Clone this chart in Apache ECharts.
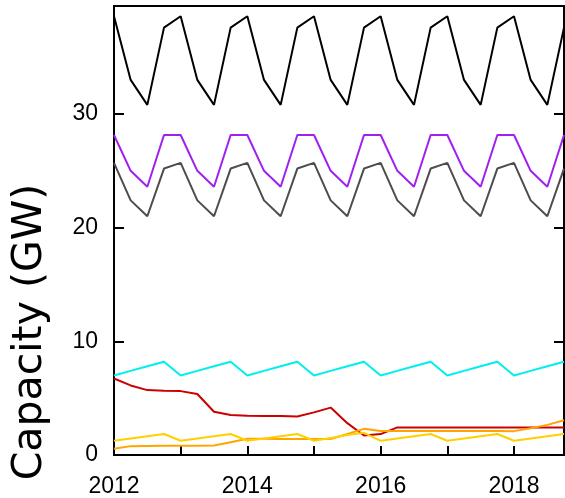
<!DOCTYPE html>
<html>
<head>
<meta charset="utf-8">
<style>
  html, body { margin: 0; padding: 0; background: #ffffff; }
  #chart { width: 565px; height: 498px; }
</style>
<script src="https://cdn.jsdelivr.net/npm/echarts@6/dist/echarts.min.js"></script>
</head>
<body>
<div id="chart"></div>
<script>
// Quarterly time stamps (decimal years)
const quarters = [
  2012.00, 2012.25, 2012.50, 2012.75,
  2013.00, 2013.25, 2013.50, 2013.75,
  2014.00, 2014.25, 2014.50, 2014.75,
  2015.00, 2015.25, 2015.50, 2015.75,
  2016.00, 2016.25, 2016.50, 2016.75,
  2017.00, 2017.25, 2017.50, 2017.75,
  2018.00, 2018.25, 2018.50, 2018.75
];

// Capacity in GW per quarter
const blackSeries = [
  38.6, 33.0, 30.8, 37.6,  38.6, 33.0, 30.8, 37.6,  38.6, 33.0, 30.8, 37.6,
  38.6, 33.0, 30.8, 37.6,  38.6, 33.0, 30.8, 37.6,  38.6, 33.0, 30.8, 37.6,
  38.6, 33.0, 30.8, 37.6
];
const purpleSeries = [
  28.15, 25.0, 23.6, 28.15,  28.15, 25.0, 23.6, 28.15,  28.15, 25.0, 23.6, 28.15,
  28.15, 25.0, 23.6, 28.15,  28.15, 25.0, 23.6, 28.15,  28.15, 25.0, 23.6, 28.15,
  28.15, 25.0, 23.6, 28.15
];
const graySeries = [
  25.7, 22.4, 21.0, 25.2,  25.7, 22.4, 21.0, 25.2,  25.7, 22.4, 21.0, 25.2,
  25.7, 22.4, 21.0, 25.2,  25.7, 22.4, 21.0, 25.2,  25.7, 22.4, 21.0, 25.2,
  25.7, 22.4, 21.0, 25.2
];
const cyanSeries = [
  7.0, 7.4, 7.8, 8.2,  7.0, 7.4, 7.8, 8.2,  7.0, 7.4, 7.8, 8.2,
  7.0, 7.4, 7.8, 8.2,  7.0, 7.4, 7.8, 8.2,  7.0, 7.4, 7.8, 8.2,
  7.0, 7.4, 7.8, 8.2
];
const redSeries = [
  6.73, 6.12, 5.71, 5.66,  5.62, 5.37, 3.81, 3.52,  3.45, 3.43, 3.42, 3.38,
  3.75, 4.17, 2.80, 1.71,  1.84, 2.43, 2.43, 2.43,  2.43, 2.43, 2.43, 2.43,
  2.43, 2.43, 2.43, 2.43
];
const orangeSeries = [
  0.55, 0.78, 0.80, 0.81,  0.82, 0.82, 0.83, 1.13,  1.43, 1.42, 1.41, 1.40,
  1.40, 1.40, 1.85, 2.30,  2.12, 2.12, 2.12, 2.12,  2.12, 2.12, 2.12, 2.12,
  2.10, 2.35, 2.65, 3.05
];
const yellowSeries = [
  1.25, 1.45, 1.65, 1.85,  1.25, 1.45, 1.65, 1.85,  1.25, 1.45, 1.65, 1.85,
  1.25, 1.50, 1.75, 1.95,  1.25, 1.45, 1.65, 1.85,  1.25, 1.45, 1.65, 1.85,
  1.25, 1.45, 1.65, 1.85
];

const yTickValues = [0, 10, 20, 30];
const xLabelYears = [2012, 2014, 2016, 2018];
const axisTitle = 'Capacity (GW)';

const lines = [
  { data: blackSeries,  color: '#000000' },
  { data: purpleSeries, color: '#A020F0' },
  { data: graySeries,   color: '#4D4D4D' },
  { data: cyanSeries,   color: '#00EEEE' },
  { data: redSeries,    color: '#CD0000' },
  { data: orangeSeries, color: '#FFA500' },
  { data: yellowSeries, color: '#FFD000' }
];

const tickFont = { fontFamily: 'Liberation Sans, Arial, sans-serif', fontSize: 23, color: '#000' };

const chart = echarts.init(document.getElementById('chart'), null, { renderer: 'canvas' });
chart.setOption({
  animation: false,
  backgroundColor: '#ffffff',
  grid: {
    left: 114, top: 6, right: 1, bottom: 42,
    show: true, borderColor: '#000', borderWidth: 2, backgroundColor: 'transparent'
  },
  xAxis: {
    type: 'value', min: 2012, max: 2018.75, interval: 1,
    axisLine: { show: true, lineStyle: { color: '#000', width: 2 } },
    axisTick: { show: true, inside: true, length: 9, lineStyle: { color: '#000', width: 2 } },
    splitLine: { show: false },
    axisLabel: {
      ...tickFont, margin: 20, showMaxLabel: false,
      formatter: v => xLabelYears.includes(v) ? String(v) : ''
    }
  },
  yAxis: [{
    type: 'value', min: 0, max: 39.5, interval: 10,
    axisLine: { show: true, lineStyle: { color: '#000', width: 2 } },
    axisTick: { show: true, inside: true, length: 10, lineStyle: { color: '#000', width: 2 } },
    splitLine: { show: false },
    axisLabel: {
      ...tickFont, margin: 16, showMaxLabel: false,
      formatter: v => yTickValues.includes(v) ? String(v) : ''
    }
  }, {
    type: 'value', position: 'right', min: 0, max: 39.5, interval: 10,
    axisLine: { show: true, lineStyle: { color: '#000', width: 2 } },
    axisTick: { show: true, inside: true, length: 10, lineStyle: { color: '#000', width: 2 } },
    splitLine: { show: false },
    axisLabel: { show: false }
  }],
  graphic: [{
    type: 'text',
    x: 30, y: 332,
    rotation: Math.PI / 2,
    style: {
      text: axisTitle,
      font: '41px "DejaVu Sans", "Noto Sans", sans-serif',
      fill: '#000',
      textAlign: 'center',
      textVerticalAlign: 'middle'
    }
  }],
  series: lines.map(s => ({
    type: 'line',
    data: quarters.map((q, i) => [q, s.data[i]]),
    showSymbol: false,
    clip: true,
    lineStyle: { color: s.color, width: 2 },
    itemStyle: { color: s.color }
  }))
});
</script>
</body>
</html>
